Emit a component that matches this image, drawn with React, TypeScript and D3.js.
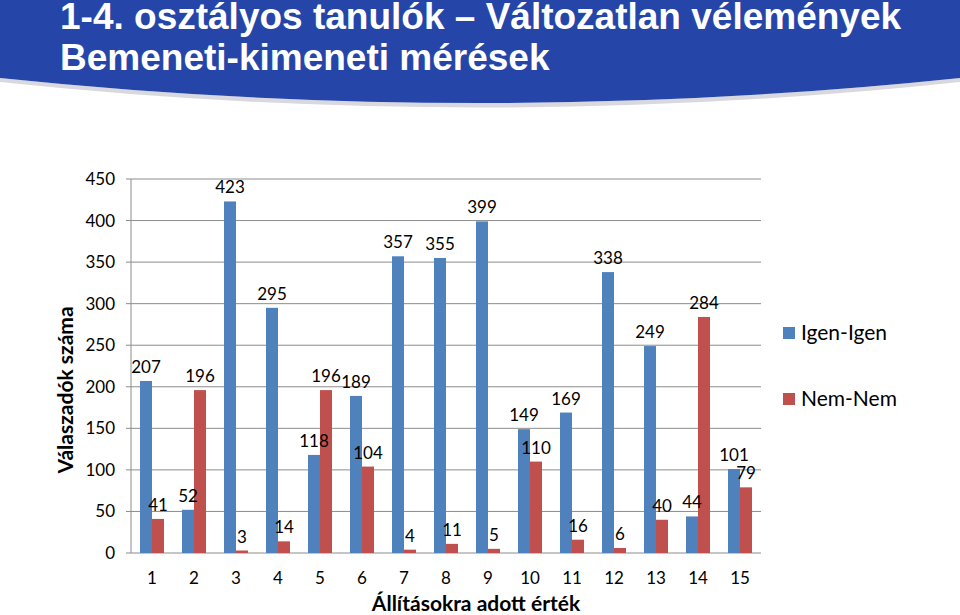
import React from "react";
import * as d3 from "d3";

const categories = ["1","2","3","4","5","6","7","8","9","10","11","12","13","14","15"];
const igenIgen = [207, 52, 423, 295, 118, 189, 357, 355, 399, 149, 169, 338, 249, 44, 101];
const nemNem = [41, 196, 3, 14, 196, 104, 4, 11, 5, 110, 16, 6, 40, 284, 79];
const yTicks = [0, 50, 100, 150, 200, 250, 300, 350, 400, 450];
const seriesNames = ["Igen-Igen", "Nem-Nem"];
const titleLines = ["1-4. osztályos tanulók – Változatlan vélemények", "Bemeneti-kimeneti mérések"];

const W = 960, H = 615;
const left = 131, right = 761, top = 179, bottom = 553;
const colors = ["#4F81BD", "#C0504D"];
const font = "Lato, 'Open Sans', sans-serif";

export default function App() {
  const x = d3.scaleBand<string>().domain(categories).range([left, right]).paddingInner(0).paddingOuter(0);
  const inner = d3.scaleBand<number>().domain([0, 1]).range([0, x.bandwidth()]).paddingInner(0).paddingOuter(0.75);
  const y = d3.scaleLinear().domain([0, 450]).range([bottom, top]);
  const series = [igenIgen, nemNem];

  const headerPath = d3.path();
  headerPath.moveTo(0, 0);
  headerPath.lineTo(W, 0);
  headerPath.lineTo(W, 78);
  headerPath.quadraticCurveTo(W / 2, 128, 0, 78);
  headerPath.closePath();
  const shadowPath = d3.path();
  shadowPath.moveTo(0, 78);
  shadowPath.quadraticCurveTo(W / 2, 128, W, 78);
  shadowPath.lineTo(W, 82);
  shadowPath.quadraticCurveTo(W / 2, 133, 0, 82);
  shadowPath.closePath();

  const barData = series.flatMap((vals, s) =>
    vals.map((v, i) => ({
      s,
      v,
      bx: (x(categories[i]) as number) + (inner(s) as number),
      bw: inner.bandwidth(),
    }))
  );

  return (
    <svg width={W} height={H} style={{ position: "absolute", left: 0, top: 0, background: "#fff" }}>
      <path d={shadowPath.toString()} fill="#d8d8de" />
      <path d={headerPath.toString()} fill="#2546a8" />
      {titleLines.map((t, i) => (
        <text key={i} x={60} y={29 + i * 41} fill="#fff" fontFamily="'Liberation Sans', Arial, sans-serif" fontWeight="bold" fontSize={37}>
          {t}
        </text>
      ))}

      {yTicks.map((t) => (
        <g key={t}>
          <line x1={left} x2={right} y1={y(t)} y2={y(t)} stroke="#8c8c8c" strokeWidth={1} />
          <line x1={left - 5} x2={left} y1={y(t)} y2={y(t)} stroke="#8c8c8c" />
          <text x={115} y={y(t) + 6} textAnchor="end" fontFamily={font} fontSize={17} fill="#000">{t}</text>
        </g>
      ))}
      <line x1={left} x2={left} y1={top} y2={bottom} stroke="#8c8c8c" />

      {barData.map((d, k) => (
        <rect key={"r" + k} x={d.bx} y={y(d.v)} width={d.bw} height={bottom - y(d.v)} fill={colors[d.s]} />
      ))}
      {barData.map((d, k) => (
        <text key={"t" + k} x={d.bx + d.bw / 2} y={y(d.v) - 8} textAnchor="middle" fontFamily={font} fontSize={17} fill="#000">{d.v}</text>
      ))}

      {categories.map((c) => (
        <text key={c} x={(x(c) as number) + x.bandwidth() / 2} y={584} textAnchor="middle" fontFamily={font} fontSize={17} fill="#000">{c}</text>
      ))}

      <text x={476} y={611} textAnchor="middle" fontFamily={font} fontSize={21} fontWeight="bold" fill="#000">Állításokra adott érték</text>
      <text transform={`translate(73,390) rotate(-90)`} textAnchor="middle" fontFamily={font} fontSize={21} fontWeight="bold" fill="#000">Válaszadók száma</text>

      {seriesNames.map((n, i) => (
        <g key={n}>
          <rect x={783} y={327 + i * 66} width={12} height={12} fill={colors[i]} />
          <text x={801} y={340 + i * 66} fontFamily={font} fontSize={21} fill="#000">{n}</text>
        </g>
      ))}
    </svg>
  );
}
